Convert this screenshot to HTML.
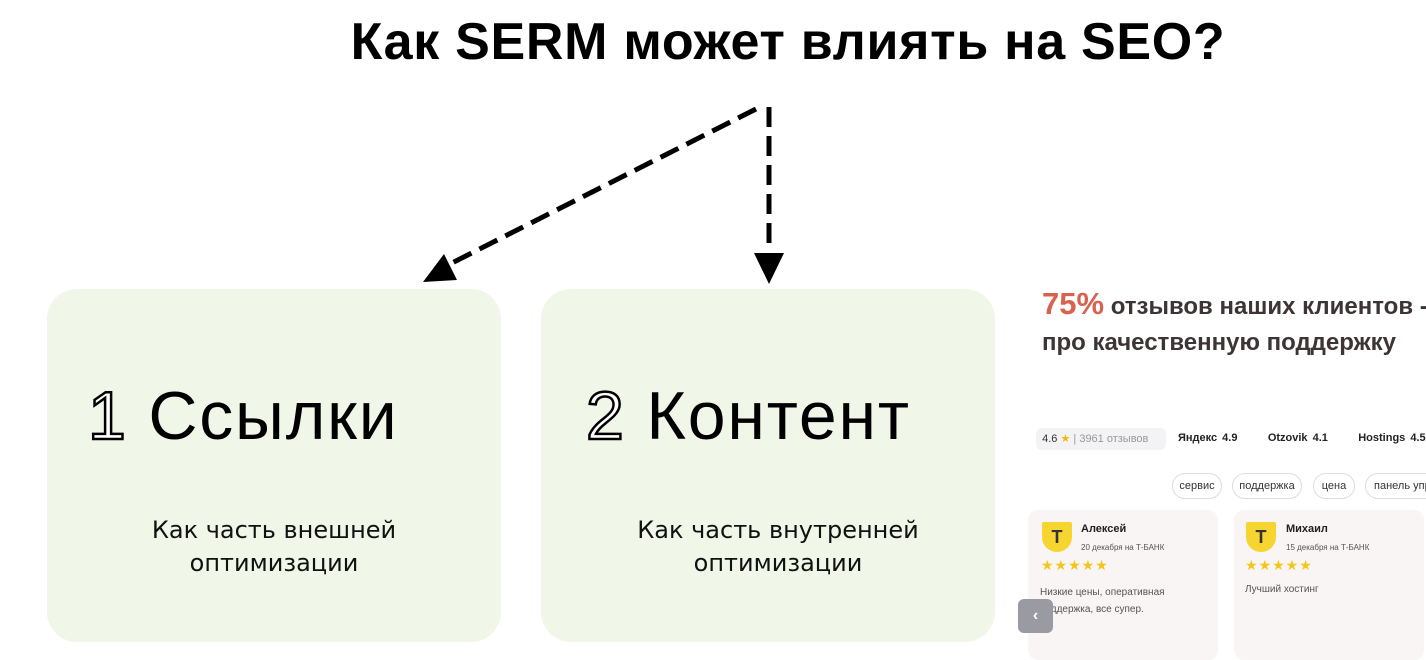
<!DOCTYPE html>
<html><head><meta charset="utf-8"><style>
body{margin:0;width:1426px;height:653px;background:#fff;position:relative;overflow:hidden;font-family:"Liberation Sans","DejaVu Sans",sans-serif}
.abs{position:absolute}
.title{left:0;width:1576px;top:12px;text-align:center;font-size:52px;font-weight:bold;color:#000;letter-spacing:0.7px}
.box{background:#f0f6e8;border-radius:30px;top:289px;height:353px;width:454px}
.big{font-size:68px;color:#000;top:377px;white-space:nowrap;letter-spacing:1.8px}
.big .n{color:#fff;-webkit-text-stroke:2.5px #000}
.sub{color:#111;text-align:center;line-height:33px;top:514px;width:454px;font-family:"DejaVu Sans",sans-serif;font-size:24px}
.hl{left:1042px;top:286px;font-size:24px;font-weight:bold;color:#3d3535;line-height:36px;white-space:nowrap}
.hl span{color:#d9614f;font-size:31px}
.chip{top:473px;height:24px;border:1px solid #ddd;border-radius:13px;font-size:11px;line-height:24px;text-align:center;color:#333}
.card{top:510px;width:190px;height:150px;background:#f8f5f4;border-radius:10px}
.shield{width:30px;height:30px;background:#f7d531;border-radius:2px 2px 15px 15px;font-weight:bold;font-size:18px;text-align:center;line-height:30px;color:#333}
.stars{color:#f5c518;font-size:14px;letter-spacing:1px}
</style></head><body>
<div class="abs title">Как SERM может влиять на SEO?</div>
<svg class="abs" style="left:0;top:0" width="1426" height="653">
<line x1="756" y1="109" x2="448" y2="265" stroke="#000" stroke-width="5" stroke-dasharray="20 9"/>
<polygon points="423,282 444,254 457,280" fill="#000"/>
<line x1="769" y1="107" x2="769" y2="252" stroke="#000" stroke-width="5" stroke-dasharray="20 9"/>
<polygon points="754,253 784,253 769,284" fill="#000"/>
</svg>
<div class="abs box" style="left:47px"></div>
<div class="abs box" style="left:541px"></div>
<div class="abs big" style="left:88px"><span class="n">1</span> Ссылки</div>
<div class="abs big" style="left:586px"><span class="n">2</span> Контент</div>
<div class="abs sub" style="left:47px">Как часть внешней<br>оптимизации</div>
<div class="abs sub" style="left:551px">Как часть внутренней<br>оптимизации</div>
<div class="abs hl"><span>75%</span> отзывов наших клиентов -<br>про качественную поддержку</div>
<div class="abs" style="left:1036px;top:428px;width:130px;height:22px;background:#f3f3f5;border-radius:6px;font-size:11px;line-height:22px;color:#333">&nbsp;&nbsp;4.6 <span style="color:#f5b800">★</span> <span style="color:#999">| 3961 отзывов</span></div>
<div class="abs" style="left:1178px;top:432px;font-size:11px;font-weight:bold;color:#222;white-space:nowrap;word-spacing:2px">Яндекс 4.9 &nbsp;&nbsp;&nbsp;&nbsp; Otzovik 4.1 &nbsp;&nbsp;&nbsp;&nbsp; Hostings 4.5</div>
<div class="abs chip" style="left:1172px;width:48px">сервис</div>
<div class="abs chip" style="left:1232px;width:68px">поддержка</div>
<div class="abs chip" style="left:1313px;width:40px">цена</div>
<div class="abs chip" style="left:1365px;width:70px;text-align:left;padding-left:8px">панель упра</div>
<div class="abs card" style="left:1028px"></div>
<div class="abs card" style="left:1234px"></div>
<div class="abs shield" style="left:1042px;top:522px">T</div>
<div class="abs shield" style="left:1246px;top:522px">T</div>
<div class="abs" style="left:1081px;top:523px;font-size:11px;font-weight:bold;color:#222">Алексей</div>
<div class="abs" style="left:1081px;top:543px;font-size:8px;color:#555">20 декабря на Т-БАНК</div>
<div class="abs" style="left:1286px;top:523px;font-size:11px;font-weight:bold;color:#222">Михаил</div>
<div class="abs" style="left:1286px;top:543px;font-size:8px;color:#555">15 декабря на Т-БАНК</div>
<div class="abs stars" style="left:1041px;top:557px">★★★★★</div>
<div class="abs stars" style="left:1245px;top:557px">★★★★★</div>
<div class="abs" style="left:1040px;top:584px;font-size:10px;color:#555;line-height:17px">Низкие цены, оперативная<br>поддержка, все супер.</div>
<div class="abs" style="left:1245px;top:584px;font-size:10px;color:#555">Лучший хостинг</div>
<div class="abs" style="left:1018px;top:599px;width:35px;height:34px;background:#9a9aa3;border-radius:6px;color:#fff;font-size:16px;line-height:34px;text-align:center;font-weight:bold">‹</div>
</body></html>
